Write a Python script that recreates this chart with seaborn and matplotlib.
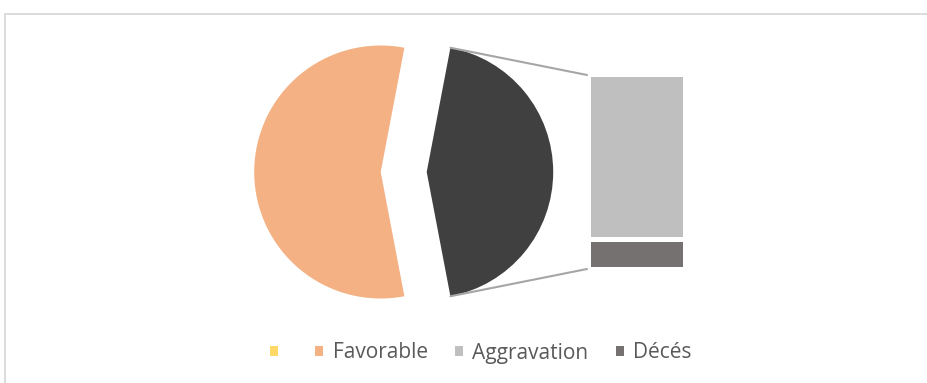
import matplotlib
matplotlib.use("Agg")
import matplotlib.pyplot as plt
from matplotlib.patches import Patch
from matplotlib.lines import Line2D
import numpy as np
import seaborn as sns

sns.set_theme(style="white")
plt.rcParams['font.family'] = ['Open Sans', 'DejaVu Sans']

# Outcome shares (%)
pie_labels = ["Autre", "Favorable"]
pie_values = [44, 56]
bar_labels = ["Aggravation", "Décès"]
bar_values = [38, 6]
legend_labels = ["", "Favorable", "Aggravation", "Décés"]

c_other = "#404040"
c_fav = "#F4B183"
c_aggr = "#BFBFBF"
c_dec = "#767171"
c_blank = "#FFD966"

W, H = 928, 383
fig = plt.figure(figsize=(W / 100, H / 100), dpi=100)
ax = fig.add_axes([0, 0, 1, 1])

# pie: "other" slice pulled out to the right, centred on 0 degrees
cx, cy, r = 380.7, H - 172, 126.5
half = 360 * pie_values[0] / sum(pie_values) / 2
explode_px = 46
ax.pie(pie_values, colors=[c_other, c_fav], startangle=-half,
       counterclock=True, center=(cx, cy), radius=r,
       explode=[explode_px, 0], frame=True,
       wedgeprops=dict(linewidth=0))
ax.set_xlim(0, W)
ax.set_ylim(0, H)
ax.set_aspect("equal")
ax.axis("off")

# stacked bar breaking down the "other" slice, with a small gap between segments
bx0, bx1 = 590.7, 683.5
stack_bottom = H - 267
gap = 5
scale = 185 / sum(bar_values)
bottoms = [stack_bottom + bar_values[1] * scale + gap, stack_bottom]
heights = [bar_values[0] * scale, bar_values[1] * scale]
ax.bar([(bx0 + bx1) / 2] * 2, heights, bottom=bottoms, width=bx1 - bx0,
       color=[c_aggr, c_dec], linewidth=0)

# connector lines from the pulled-out slice to the bar
ocx = cx + explode_px
a = np.deg2rad(half)
top_pt = (ocx + r * np.cos(a), cy + r * np.sin(a))
bot_pt = (ocx + r * np.cos(a), cy - r * np.sin(a))
ax.plot([top_pt[0], 587], [top_pt[1], H - 75], color="#A6A6A6", lw=1.5)
ax.plot([bot_pt[0], 587], [bot_pt[1], H - 269], color="#A6A6A6", lw=1.5)

# chart area border (top and left visible)
fig.add_artist(Line2D([5.5 / W, 1.0], [1 - 13.5 / H] * 2, transform=fig.transFigure,
                      color="#D9D9D9", lw=1.3))
fig.add_artist(Line2D([5.5 / W] * 2, [0, 1 - 13.5 / H], transform=fig.transFigure,
                      color="#D9D9D9", lw=1.3))

handles = [Patch(facecolor=c, edgecolor="none") for c in [c_blank, c_fav, c_aggr, c_dec]]
fig.legend(handles, legend_labels, loc="center", bbox_to_anchor=(481 / W, 1 - 353 / H),
           ncol=4, frameon=False, fontsize=15, handlelength=0.4, handleheight=0.4,
           handletextpad=0.45, columnspacing=1.3, labelcolor="#595959")

fig.savefig("out.png", dpi=100, facecolor="white")
